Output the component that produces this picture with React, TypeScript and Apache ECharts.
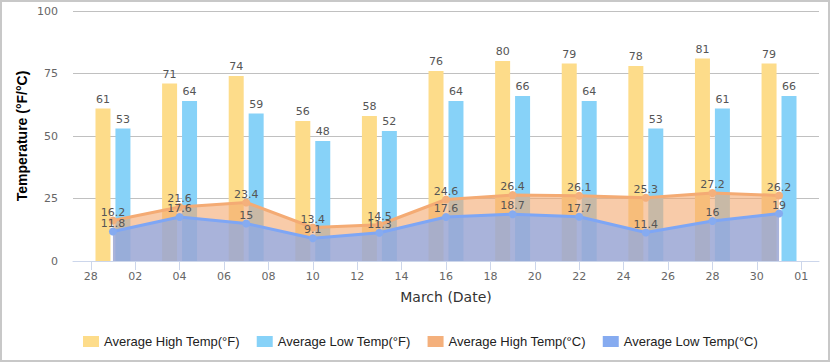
import React, { useEffect, useRef } from "react";
import * as echarts from "echarts";

const dates = [
  "2023-03-01", "2023-03-04", "2023-03-07", "2023-03-10", "2023-03-13", "2023-03-16",
  "2023-03-19", "2023-03-22", "2023-03-25", "2023-03-28", "2023-03-31",
];
const highF = [61, 71, 74, 56, 58, 76, 80, 79, 78, 81, 79];
const lowF = [53, 64, 59, 48, 52, 64, 66, 64, 53, 61, 66];
const highC = [16.2, 21.6, 23.4, 13.4, 14.5, 24.6, 26.4, 26.1, 25.3, 27.2, 26.2];
const lowC = [11.8, 17.6, 15, 9.1, 11.3, 17.6, 18.7, 17.7, 11.4, 16, 19];
const tickDates = [
  "2023-02-28", "2023-03-02", "2023-03-04", "2023-03-06", "2023-03-08", "2023-03-10",
  "2023-03-12", "2023-03-14", "2023-03-16", "2023-03-18", "2023-03-20", "2023-03-22",
  "2023-03-24", "2023-03-26", "2023-03-28", "2023-03-30", "2023-04-01",
];
const seriesNames = [
  "Average High Temp(°F)",
  "Average Low Temp(°F)",
  "Average High Temp(°C)",
  "Average Low Temp(°C)",
];
const yTicks = [0, 25, 50, 75, 100];

const DAY = 24 * 3600 * 1000;
const toTs = (s: string) => {
  const [y, m, d] = s.split("-").map(Number);
  return new Date(y, m - 1, d).getTime();
};

export default function App() {
  const ref = useRef<HTMLDivElement>(null);
  useEffect(() => {
    document.body.style.margin = "0";
    if (!ref.current) return;
    const chart = echarts.init(ref.current, undefined, { renderer: "svg" });
    const ts = dates.map(toTs);
    const pair = (vals: number[]) => vals.map((v, i) => [ts[i], v]);
    const tickTs = tickDates.map(toTs);
    const labelFont = "DejaVu Sans";
    const lblColor = "#555";
    chart.setOption({
      animation: false,
      graphic: [
        {
          type: "rect",
          shape: { x: 1, y: 1, width: 828, height: 360 },
          style: { fill: "none", stroke: "#c8c8c8", lineWidth: 2 },
          silent: true,
          z: -10,
        },
      ],
      grid: { left: 73, right: 11, top: 11, bottom: 101 },
      legend: {
        data: seriesNames,
        top: 330,
        left: 78,
        icon: "rect",
        itemWidth: 16,
        itemHeight: 11,
        itemGap: 17,
        textStyle: { fontFamily: "Liberation Sans", fontSize: 13, color: "#222" },
      },
      xAxis: {
        type: "value",
        min: ts[0] - 1.8 * DAY,
        max: ts[ts.length - 1] + 1.8 * DAY,
        name: "March (Date)",
        nameLocation: "middle",
        nameGap: 29,
        nameTextStyle: { fontFamily: labelFont, fontSize: 14, color: "#333" },
        axisLine: { show: true, lineStyle: { color: "#ccd6eb", width: 1 } },
        axisTick: { show: true, length: 9, lineStyle: { color: "#ccd6eb" }, customValues: tickTs },
        axisLabel: {
          customValues: tickTs,
          margin: 10,
          fontFamily: labelFont,
          fontSize: 11,
          color: "#666",
          formatter: (v: number) => {
            const d = new Date(v).getDate();
            return (d < 10 ? "0" : "") + d;
          },
        },
        splitLine: { show: false },
      },
      yAxis: {
        type: "value",
        min: yTicks[0],
        max: yTicks[yTicks.length - 1],
        interval: 25,
        name: "Temperature (°F/°C)",
        nameLocation: "middle",
        nameGap: 44,
        nameMoveOverlap: false,
        nameTextStyle: { fontFamily: "Liberation Sans", fontSize: 14, fontWeight: "bold", color: "#000" },
        axisLine: { show: false },
        axisTick: { show: false },
        axisLabel: { margin: 15, fontFamily: labelFont, fontSize: 11, color: "#666" },
        splitLine: { lineStyle: { color: "#c0c0c0", width: 1 } },
      },
      series: [
        {
          name: seriesNames[0],
          type: "bar",
          data: pair(highF),
          barWidth: 15,
          barGap: "33%",
          itemStyle: { color: "#fddc8a" },
          label: { show: true, position: "top", distance: 4, fontFamily: labelFont, fontSize: 11, color: lblColor },
        },
        {
          name: seriesNames[1],
          type: "bar",
          data: pair(lowF),
          barWidth: 15,
          barGap: "33%",
          itemStyle: { color: "#87d2f8" },
          label: { show: true, position: "top", distance: 4, fontFamily: labelFont, fontSize: 11, color: lblColor },
        },
        {
          name: seriesNames[2],
          type: "line",
          data: pair(highC),
          symbol: "circle",
          symbolSize: 8,
          lineStyle: { color: "#f4ab74", width: 3 },
          itemStyle: { color: "#f4b07c" },
          areaStyle: { color: "#f4a870", opacity: 0.6 },
          label: { show: true, position: "top", distance: -1, fontFamily: labelFont, fontSize: 11, color: lblColor },
        },
        {
          name: seriesNames[3],
          type: "line",
          data: pair(lowC),
          symbol: "circle",
          symbolSize: 8,
          lineStyle: { color: "#7ea6f5", width: 3 },
          itemStyle: { color: "#86abf0" },
          areaStyle: { color: "#7ea6f5", opacity: 0.65 },
          label: { show: true, position: "top", distance: -1, fontFamily: labelFont, fontSize: 11, color: lblColor },
        },
      ],
    });
    return () => chart.dispose();
  }, []);
  return <div ref={ref} style={{ width: 830, height: 362 }} />;
}
